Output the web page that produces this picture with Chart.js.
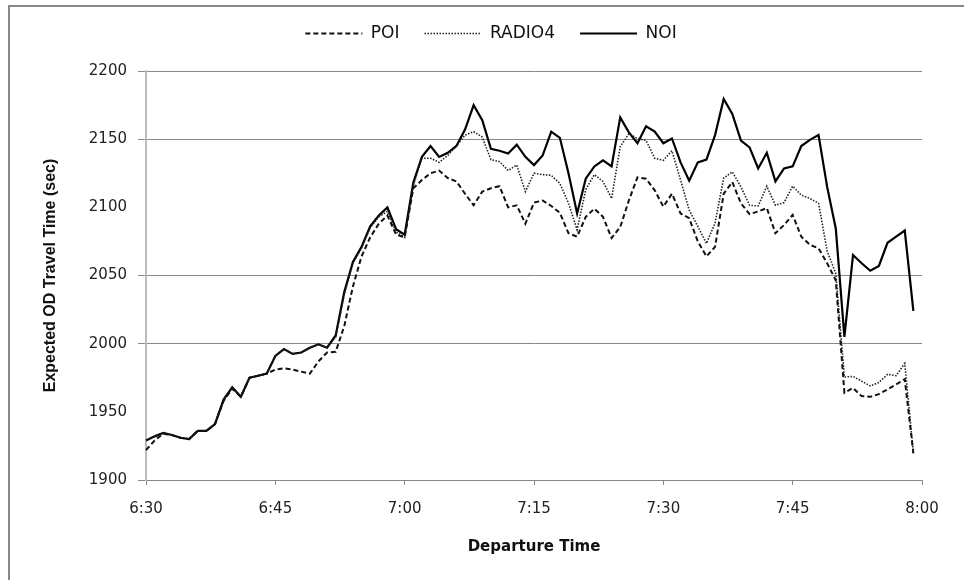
<!DOCTYPE html>
<html>
<head>
<meta charset="utf-8">
<script src="https://cdn.jsdelivr.net/npm/chart.js@4.4.1/dist/chart.umd.min.js"></script>
<style>
  html, body { margin:0; padding:0; background:#fff; overflow:hidden; width:964px; height:580px; }
  .frame { position:absolute; left:8px; top:5px; width:1100px; height:1000px; border:2px solid #888; box-sizing:border-box; }
  #c { position:absolute; left:0; top:0; z-index:1; }
</style>
</head>
<body>
<div class="frame"></div>
<canvas id="c" width="964" height="580"></canvas>
<script>
// Departure times (category axis), one per minute from 6:30 to 8:00
const times = [
  "6:30","6:31","6:32","6:33","6:34","6:35","6:36","6:37","6:38","6:39",
  "6:40","6:41","6:42","6:43","6:44","6:45","6:46","6:47","6:48","6:49",
  "6:50","6:51","6:52","6:53","6:54","6:55","6:56","6:57","6:58","6:59",
  "7:00","7:01","7:02","7:03","7:04","7:05","7:06","7:07","7:08","7:09",
  "7:10","7:11","7:12","7:13","7:14","7:15","7:16","7:17","7:18","7:19",
  "7:20","7:21","7:22","7:23","7:24","7:25","7:26","7:27","7:28","7:29",
  "7:30","7:31","7:32","7:33","7:34","7:35","7:36","7:37","7:38","7:39",
  "7:40","7:41","7:42","7:43","7:44","7:45","7:46","7:47","7:48","7:49",
  "7:50","7:51","7:52","7:53","7:54","7:55","7:56","7:57","7:58","7:59",
  "8:00"
];
const tickLabels = ["6:30","6:45","7:00","7:15","7:30","7:45","8:00"];

const POI = [
  1922,1929,1934,1933,1931,1930,1936,1936,1941,1958,
  1967,1961,1975,1976.5,1978,1981,1982,1981,1979.5,1978,
  1987,1993.5,1994,2013,2042,2064,2078,2088,2094,2080,
  2078,2114,2120,2125,2127,2121.5,2119,2110,2101.5,2111.5,
  2114,2115.5,2100,2101.5,2088,2103.5,2105,2101,2096,2081,
  2078.5,2093,2099,2093,2077.5,2085.5,2105,2122,2121,2112.5,
  2100.5,2110,2095.5,2092,2075,2064,2071,2110,2118.5,2103,
  2095,2097,2099.5,2081,2087,2094.5,2078.5,2072.5,2070,2059,
  2046.5,1964,1967.5,1961.5,1961,1963,1966.5,1970,1974,1919.5
];
const RADIO4 = [
  1929,1932,1934.5,1933,1931,1930,1936,1936,1941,1959,
  1968,1961,1975,1976.5,1978,1991,1996,1992.5,1993.5,1997,
  1999.5,1997,2005,2036,2059,2070,2085,2093,2097,2082,
  2078,2116,2136,2136,2133,2138,2145,2153,2155.5,2151.5,
  2135,2133.5,2127,2131,2111.5,2125,2124,2123.5,2117.5,2103,
  2083.5,2113,2124,2119,2106.5,2144.5,2154,2150.5,2149,2136,
  2134.5,2141.5,2120,2098,2086,2073.5,2088.5,2121.5,2126,2115,
  2101.5,2101,2115.5,2101.5,2103.5,2115.5,2109,2106.5,2103,2068,
  2051.5,1975.5,1976,1972.5,1969,1971.5,1977.5,1976.5,1985.5,1920
];
const NOI = [
  1929,1932,1934.5,1933,1931,1930,1936,1936,1941,1959,
  1968,1961,1975,1976.5,1978,1991,1996,1992.5,1993.5,1997,
  1999.5,1997,2006,2038,2060,2071,2086,2094,2100,2084,
  2080,2118,2137,2145,2137,2140,2145,2157,2175,2164,
  2143,2141.5,2139.5,2146,2137,2131,2138,2155.5,2151,2125,
  2095.5,2121,2130,2134.5,2130,2166,2155,2147,2159.5,2155.5,
  2147,2150.5,2133,2119.5,2133,2135,2153,2179.5,2168.5,2149,
  2144,2128.5,2140,2119,2128.5,2130,2145,2149.5,2153,2115,
  2084.5,2005,2065,2059,2053.5,2057,2074,2078.5,2083,2024
];

const yMin = 1900, yMax = 2200, yStep = 50;
const hiddenGrid = [2100, 1950];

new Chart(document.getElementById('c'), {
  type: 'line',
  data: {
    labels: times,
    datasets: [
      { label: 'POI', data: POI, borderColor: '#111', backgroundColor: '#111', borderWidth: 2, borderDash: [5, 3], pointRadius: 0, tension: 0, fill: false },
      { label: 'RADIO4', data: RADIO4, borderColor: '#222', backgroundColor: '#222', borderWidth: 1.6, borderDash: [1.5, 1.5], pointRadius: 0, tension: 0, fill: false },
      { label: 'NOI', data: NOI, borderColor: '#000', backgroundColor: '#000', borderWidth: 2.2, pointRadius: 0, tension: 0, fill: false }
    ]
  },
  options: {
    responsive: false,
    animation: false,
    devicePixelRatio: 1,
    layout: { padding: { left: 41, right: 23, top: 0, bottom: 0 } },
    plugins: {
      legend: {
        position: 'top', align: 'center',
        labels: {
          usePointStyle: true, pointStyle: 'line', pointStyleWidth: 57, padding: 25, color: '#111',
          font: { family: 'DejaVu Sans', size: 17 },
          generateLabels: function (chart) {
            const items = Chart.defaults.plugins.legend.labels.generateLabels(chart);
            items.forEach(function (it) {
              const ds = chart.data.datasets[it.datasetIndex];
              it.lineDash = ds.borderDash || [];
              it.lineWidth = ds.borderWidth;
              it.strokeStyle = ds.borderColor;
              it.pointStyle = 'line';
            });
            return items;
          }
        }
      },
      subtitle: { display: true, text: '', weight: 500, padding: { top: 7, bottom: 0 }, font: { size: 10 } },
      tooltip: { enabled: false }
    },
    scales: {
      x: {
        type: 'category',
        grid: { display: true, drawOnChartArea: false, drawTicks: true, tickLength: 5, color: '#888' },
        border: { display: true, color: '#888', width: 1 },
        ticks: {
          autoSkip: false, maxRotation: 0, minRotation: 0, padding: 15, color: '#222',
          font: { family: 'DejaVu Sans', size: 15 },
          callback: function (v, i) { const l = times[i]; return tickLabels.includes(l) ? l : null; }
        },
        title: { display: true, text: 'Departure Time', color: '#111',
                 font: { family: 'DejaVu Sans', size: 15, weight: 'bold' }, padding: { top: 0, bottom: 24 } },
        afterFit: function (s) { s.height = 100; }
      },
      y: {
        type: 'linear', min: yMin, max: yMax,
        ticks: { stepSize: yStep, padding: 11, color: '#222', font: { family: 'DejaVu Sans', size: 15 },
                 callback: function (v) { return String(v); } },
        grid: {
          color: function (c) { return (c.tick && hiddenGrid.includes(c.tick.value)) ? 'rgba(0,0,0,0)' : '#888'; },
          tickLength: 8, lineWidth: 1
        },
        border: { display: true, color: '#bbb', width: 2 },
        title: { display: true, text: 'Expected OD Travel Time (sec)', color: '#111',
                 font: { family: 'Liberation Sans', size: 16, weight: 'bold' }, padding: { top: 0, bottom: 0 } },
        afterFit: function (s) { s.width = 105; }
      },
      yR: {
        type: 'linear', position: 'right', display: true,
        grid: { display: false }, border: { display: false }, ticks: { display: false },
        afterFit: function (s) { s.width = 19; }
      }
    }
  }
});
</script>
</body>
</html>
